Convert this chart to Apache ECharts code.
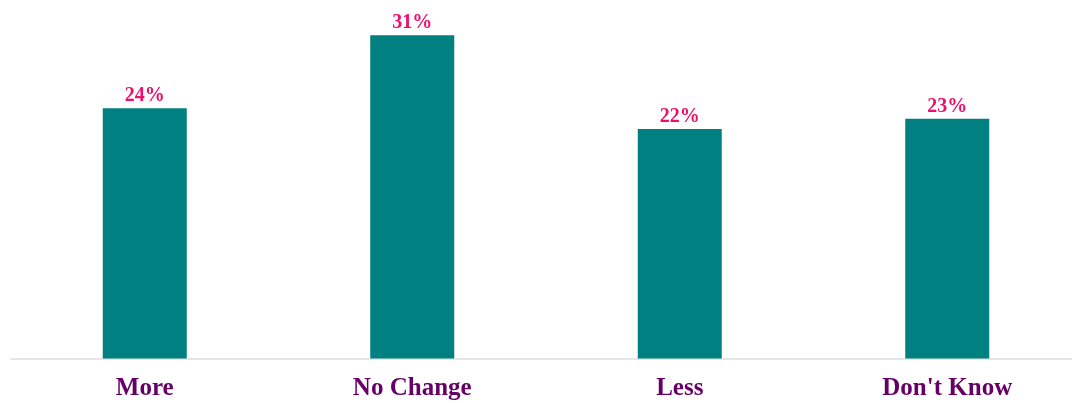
<!DOCTYPE html>
<html>
<head>
<meta charset="utf-8">
<script src="https://cdn.jsdelivr.net/npm/echarts@6/dist/echarts.min.js"></script>
<style>
  html, body { margin: 0; padding: 0; background: #ffffff; overflow: hidden; }
  #chart { width: 1081px; height: 403px; }
</style>
</head>
<body>
<div id="chart"></div>
<script>
// Share of responses per answer (%)
const categories = ['More', 'No Change', 'Less', "Don't Know"];
const shares = [24, 31, 22, 23];

const chart = echarts.init(document.getElementById('chart'), null, { renderer: 'canvas' });

chart.setOption({
  animation: false,
  backgroundColor: '#ffffff',
  grid: { left: 11, right: 0, top: 4, bottom: 44.5, containLabel: false },
  xAxis: {
    type: 'category',
    data: categories,
    axisLine: { show: true, lineStyle: { color: '#e6e6e6', width: 2 } },
    axisTick: { show: false },
    axisLabel: {
      margin: 18,
      color: '#660066',
      fontFamily: '"Liberation Serif", "Times New Roman", serif',
      fontWeight: 'bold',
      fontSize: 25
    }
  },
  yAxis: {
    type: 'value',
    min: 0,
    max: 34,
    show: false,
    splitLine: { show: false }
  },
  series: [{
    type: 'bar',
    data: shares,
    barWidth: 84,
    itemStyle: { color: '#008080' },
    label: {
      show: true,
      position: 'top',
      distance: 2,
      formatter: p => p.value + '%',
      color: '#ee0f6b',
      fontFamily: '"Liberation Serif", "Times New Roman", serif',
      fontWeight: 'bold',
      fontSize: 20
    }
  }]
});
</script>
</body>
</html>
